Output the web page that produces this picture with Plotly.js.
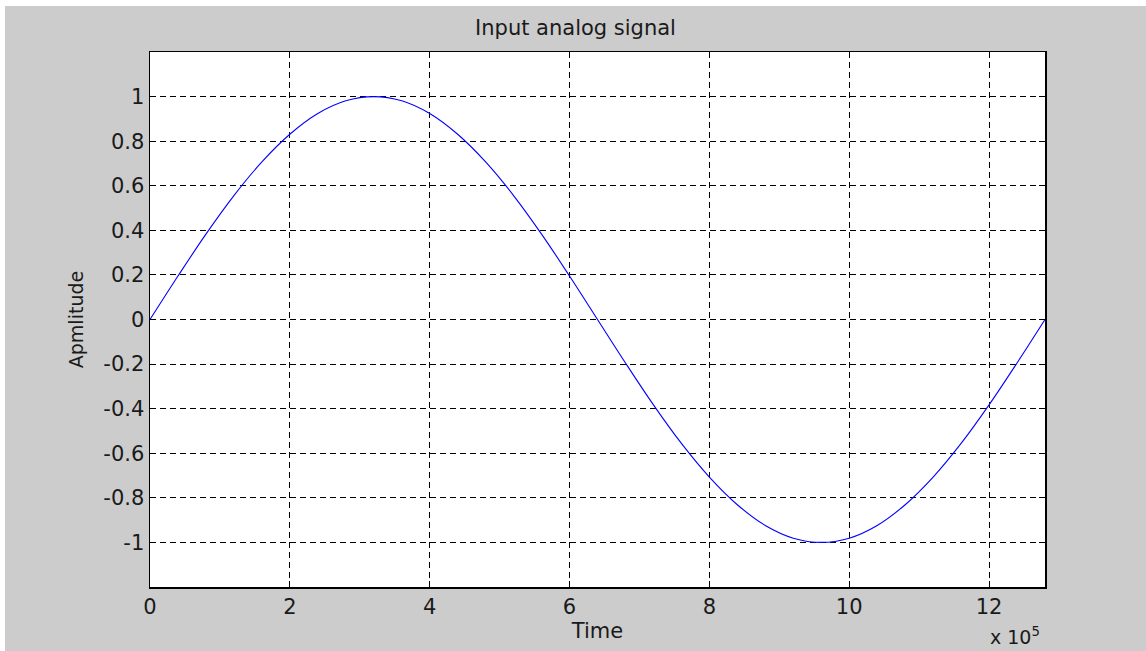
<!DOCTYPE html>
<html>
<head>
<meta charset="utf-8">
<script src="https://cdn.plot.ly/plotly-3.0.1.min.js"></script>
<style>
html,body{margin:0;padding:0;background:#ffffff;}
#chart{position:absolute;left:5px;top:6px;width:1141px;height:645px;}
</style>
</head>
<body>
<div id="chart"></div>
<script>
// Time (x 10^5) and amplitude
const timeVals = [0,0.4,0.8,1.2,1.6,2.0,2.4,2.8,3.2,3.6,4.0,4.4,4.8,5.2,5.6,6.0,6.4,6.8,7.2,7.6,8.0,8.4,8.8,9.2,9.6,10.0,10.4,10.8,11.2,11.6,12.0,12.4,12.8];
const amplitude = [0,0.195,0.383,0.556,0.707,0.831,0.924,0.981,1.0,0.981,0.924,0.831,0.707,0.556,0.383,0.195,0,-0.195,-0.383,-0.556,-0.707,-0.831,-0.924,-0.981,-1.0,-0.981,-0.924,-0.831,-0.707,-0.556,-0.383,-0.195,0];
const xTickVals = [0,2,4,6,8,10,12];
const xTickText = ["0","2","4","6","8","10","12"];
const yTickVals = [-1,-0.8,-0.6,-0.4,-0.2,0,0.2,0.4,0.6,0.8,1];
const yTickText = ["-1","-0.8","-0.6","-0.4","-0.2","0","0.2","0.4","0.6","0.8","1"];

const fontFam = "DejaVu Sans, sans-serif";
const trace = {
  x: timeVals, y: amplitude, type: 'scatter', mode: 'lines',
  line: {color: '#0000ff', width: 1.1, shape: 'spline'},
  hoverinfo: 'none'
};
const axisCommon = {
  showline: true, linecolor: '#000000', linewidth: 1.5, mirror: 'ticks',
  ticks: 'inside', ticklen: 6, tickcolor: '#000000', tickwidth: 1,
  showgrid: true, gridcolor: '#000000', gridwidth: 1, griddash: '6px,4px',
  zeroline: false, tickmode: 'array',
  tickfont: {family: fontFam, size: 21, color: '#1a1a1a'}
};
const layout = {
  width: 1141, height: 645,
  paper_bgcolor: '#cccccc', plot_bgcolor: '#ffffff',
  margin: {l: 145, r: 101, t: 46, b: 64},
  showlegend: false,
  font: {family: fontFam, color: '#1a1a1a'},
  title: {text: 'Input analog signal', font: {family: fontFam, size: 21, color: '#1a1a1a'},
          x: 0.5, xanchor: 'center', yref: 'container', y: 0.966, yanchor: 'middle'},
  xaxis: Object.assign({}, axisCommon, {
    range: [0, 12.8], tickvals: xTickVals, ticktext: xTickText,
    title: {text: 'Time', font: {family: fontFam, size: 21, color: '#1a1a1a'}, standoff: 2}
  }),
  yaxis: Object.assign({}, axisCommon, {
    range: [-1.2, 1.2], tickvals: yTickVals, ticktext: yTickText,
    title: {text: 'Apmlitude', font: {family: fontFam, size: 19, color: '#1a1a1a'}, standoff: 14}
  }),
  annotations: [{
    text: 'x 10<sup>5</sup>', xref: 'paper', yref: 'paper', x: 0.9665, y: -0.091,
    xanchor: 'center', yanchor: 'middle', showarrow: false,
    font: {family: fontFam, size: 19, color: '#1a1a1a'}
  }]
};
Plotly.newPlot('chart', [trace], layout, {displayModeBar: false, staticPlot: true});
</script>
</body>
</html>
